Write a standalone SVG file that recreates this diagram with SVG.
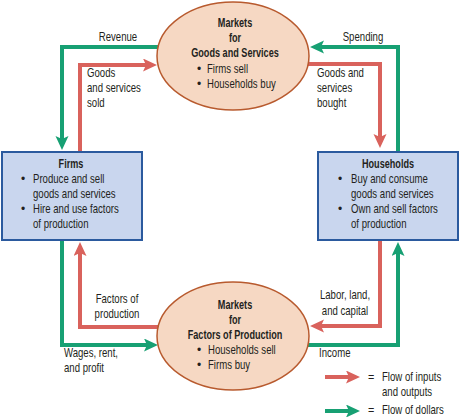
<svg xmlns="http://www.w3.org/2000/svg" width="460" height="417" viewBox="0 0 460 417">
<style>
text{font-family:"Liberation Sans",Arial,sans-serif;font-size:12px;fill:#231f20}
.b{font-weight:bold}
.c{text-anchor:middle}
.r{fill:none;stroke:#d9625c;stroke-width:4}
.g{fill:none;stroke:#17a073;stroke-width:4}
.mkt{fill:#f6d8c3;stroke:#b85a2e;stroke-width:1.5}
.box{fill:#c9d6ee;stroke:#2b5a9e;stroke-width:2}
</style>
<defs>
<marker id="ar" markerUnits="userSpaceOnUse" markerWidth="16" markerHeight="14" refX="6" refY="6.5" orient="auto"><path d="M0,0 L14,6.5 L0,13 L3,6.5 z" fill="#d9625c"/></marker>
<marker id="ag" markerUnits="userSpaceOnUse" markerWidth="16" markerHeight="14" refX="6" refY="6.5" orient="auto"><path d="M0,0 L14,6.5 L0,13 L3,6.5 z" fill="#17a073"/></marker>
</defs>
<rect width="460" height="417" fill="#fff"/>
<g id="connectors">
<path class="g" d="M160,47 H62 V142" marker-end="url(#ag)"/>
<path class="r" d="M80,152 V65 H149" marker-end="url(#ar)"/>
<path class="g" d="M398,152 V47 H318" marker-end="url(#ag)"/>
<path class="r" d="M306,64 H380 V140" marker-end="url(#ar)"/>
<path class="r" d="M160,327 H80 V250" marker-end="url(#ar)"/>
<path class="g" d="M62,240 V345 H150" marker-end="url(#ag)"/>
<path class="r" d="M380,240 V326 H318" marker-end="url(#ar)"/>
<path class="g" d="M306,345 H398 V250" marker-end="url(#ag)"/>
<text class="c" transform="translate(118 41) scale(.8 1)">Revenue</text>
<text transform="translate(87 77) scale(.8 1)">Goods</text>
<text transform="translate(87 92) scale(.8 1)">and services</text>
<text transform="translate(87 107) scale(.8 1)">sold</text>
<text class="c" transform="translate(363 41) scale(.8 1)">Spending</text>
<text transform="translate(317 77) scale(.8 1)">Goods and</text>
<text transform="translate(317 92) scale(.8 1)">services</text>
<text transform="translate(317 107) scale(.8 1)">bought</text>
<text class="c" transform="translate(117 303) scale(.8 1)">Factors of</text>
<text class="c" transform="translate(117 318) scale(.8 1)">production</text>
<text transform="translate(64 357) scale(.8 1)">Wages, rent,</text>
<text transform="translate(64 372) scale(.8 1)">and profit</text>
<text class="c" transform="translate(345 299) scale(.8 1)">Labor, land,</text>
<text class="c" transform="translate(345 315) scale(.8 1)">and capital</text>
<text transform="translate(319 357) scale(.8 1)">Income</text>
</g>
<g id="legend">
<path class="r" d="M325,377 H352" marker-end="url(#ar)"/>
<path class="g" d="M325,411 H352" marker-end="url(#ag)"/>
<text transform="translate(368 381) scale(.9 1)">=</text>
<text transform="translate(382 381) scale(.8 1)">Flow of inputs</text>
<text transform="translate(382 396) scale(.8 1)">and outputs</text>
<text transform="translate(368 414) scale(.9 1)">=</text>
<text transform="translate(382 414) scale(.8 1)">Flow of dollars</text>
</g>
<g id="goods-market">
<ellipse class="mkt" cx="233" cy="56" rx="76" ry="54"/>
<text class="b c" transform="translate(235 27) scale(.76 1)">Markets</text>
<text class="b c" transform="translate(235 42) scale(.76 1)">for</text>
<text class="b c" transform="translate(235 57) scale(.76 1)">Goods and Services</text>
<text x="197" y="73">•</text>
<text transform="translate(207 73) scale(.8 1)">Firms sell</text>
<text x="197" y="88">•</text>
<text transform="translate(207 88) scale(.8 1)">Households buy</text>
</g>
<g id="factor-market">
<ellipse class="mkt" cx="233" cy="336" rx="76" ry="54"/>
<text class="b c" transform="translate(235 309) scale(.76 1)">Markets</text>
<text class="b c" transform="translate(235 324) scale(.76 1)">for</text>
<text class="b c" transform="translate(235 339) scale(.76 1)">Factors of Production</text>
<text x="197" y="354">•</text>
<text transform="translate(208 354) scale(.8 1)">Households sell</text>
<text x="197" y="369">•</text>
<text transform="translate(208 369) scale(.8 1)">Firms buy</text>
</g>
<g id="firms">
<rect class="box" x="2" y="152" width="140" height="88"/>
<text class="b c" transform="translate(71 168) scale(.76 1)">Firms</text>
<text x="21" y="183">•</text>
<text transform="translate(33 183) scale(.8 1)">Produce and sell</text>
<text transform="translate(33 198) scale(.8 1)">goods and services</text>
<text x="21" y="213">•</text>
<text transform="translate(33 213) scale(.8 1)">Hire and use factors</text>
<text transform="translate(33 228) scale(.8 1)">of production</text>
</g>
<g id="households">
<rect class="box" x="318" y="152" width="140" height="88"/>
<text class="b c" transform="translate(388 168) scale(.76 1)">Households</text>
<text x="338" y="183">•</text>
<text transform="translate(351 183) scale(.8 1)">Buy and consume</text>
<text transform="translate(351 198) scale(.8 1)">goods and services</text>
<text x="338" y="213">•</text>
<text transform="translate(351 213) scale(.8 1)">Own and sell factors</text>
<text transform="translate(351 228) scale(.8 1)">of production</text>
</g>
</svg>
